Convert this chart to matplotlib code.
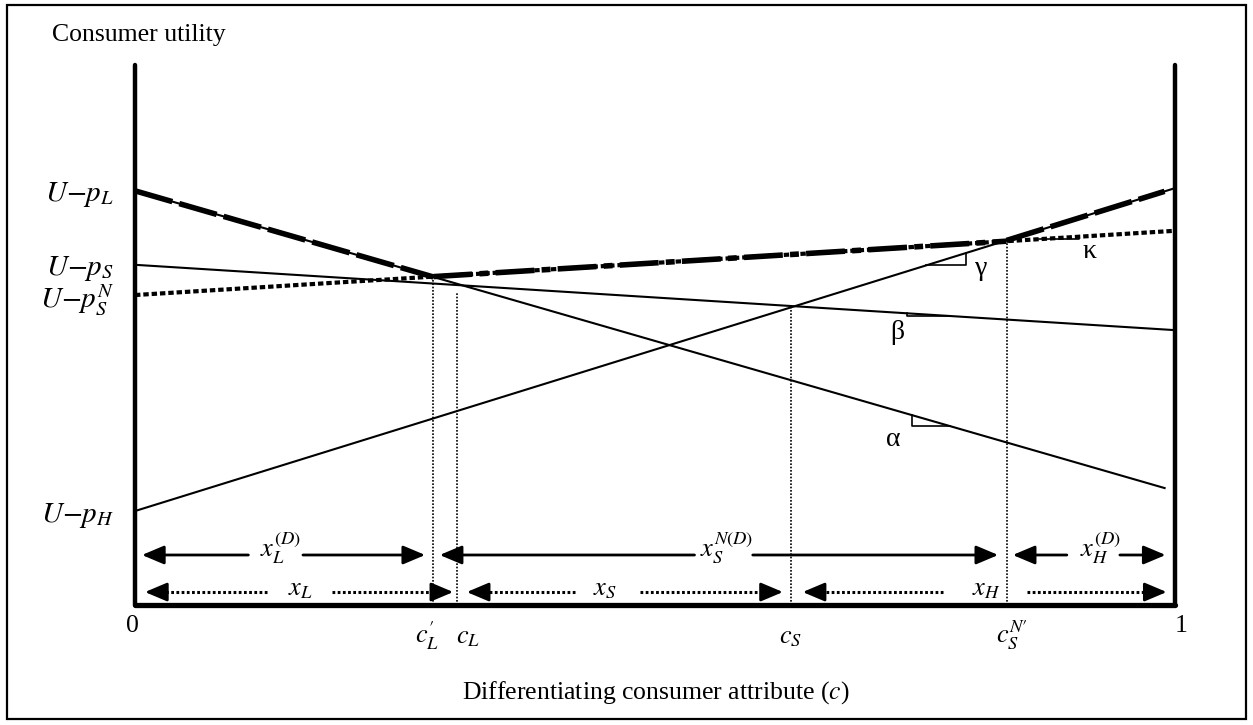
import numpy as np
import matplotlib.pyplot as plt
from matplotlib.patches import Rectangle

plt.rcParams['font.family'] = ['Liberation Serif', 'DejaVu Serif']
plt.rcParams['mathtext.fontset'] = 'stix'

# === DATA (utility at c=0 and c=1 for each price line) ===
line_names = ["L", "S", "H", "SN"]
u_at_0 = [0.767, 0.630, 0.174, 0.574]
u_at_1 = [0.211, 0.509, 0.772, 0.693]
y_labels = [r"$U{-}p_L$", r"$U{-}p_S$", r"$U{-}p_H$", r"$U{-}p_S^N$"]

# thresholds on the attribute axis
c_marks = [0.287, 0.310, 0.631, 0.838]
c_labels = [r"$c_L^{\prime}$", r"$c_L$", r"$c_S$", r"$c_S^{N\prime}$"]

# segment arrows
solid_labels = [r"$x_L^{(D)}$", r"$x_S^{N(D)}$", r"$x_H^{(D)}$"]
dotted_labels = [r"$x_L$", r"$x_S$", r"$x_H$"]

# slope markers
slope_names = ["α", "β", "γ", "κ"]
slope_lines = [0, 1, 2, 3]


def val(i, c):
    return u_at_0[i] + (u_at_1[i] - u_at_0[i]) * c


# === FIGURE ===
fig = plt.figure(figsize=(12.53, 7.25), dpi=100)
ax = fig.add_axes([135 / 1253, 120 / 725, 1040 / 1253, 540 / 725])
ax.set_xlim(0, 1)
ax.set_ylim(0, 1)
ax.spines['top'].set_visible(False)
ax.spines['left'].set_linewidth(3.2)
ax.spines['right'].set_linewidth(3.2)
ax.spines['bottom'].set_linewidth(3.8)
for sp in ax.spines.values():
    sp.set_capstyle('round')
ax.set_xticks([])
ax.set_yticks(u_at_0)
ax.set_yticklabels(y_labels, fontsize=21)
ax.tick_params(axis='y', length=0, pad=15)

# price lines
ax.plot([0, 0.99], [val(0, 0), val(0, 0.99)], color='k', lw=1.5)
ax.plot([0, 1], [val(1, 0), val(1, 1)], color='k', lw=1.5)
ax.plot([0, 1], [val(2, 0), val(2, 1)], color='k', lw=1.5)
ax.plot([0, 1], [val(3, 0), val(3, 1)], color='k', lw=3.0,
        linestyle=(0, (1.3, 0.7)))

# upper envelope
cLp, cL, cS, cSN = c_marks
ax.plot([0, cLp], [val(0, 0), val(0, cLp)], color='k', lw=4,
        linestyle=(0, (7, 1.3)), zorder=5)
ax.plot([cLp, cSN], [val(3, cLp), val(3, cSN)], color='k', lw=4,
        linestyle=(0, (7, 1.3, 1.6, 1.3)), zorder=5)
ax.plot([cSN, 0.99], [val(2, cSN), val(2, 0.99)], color='k', lw=4,
        linestyle=(0, (7, 1.3)), zorder=5)

# vertical dotted drop lines
tops = [val(0, cLp), val(1, cL) - 0.012, val(1, cS), val(3, cSN)]
for c, t in zip(c_marks, tops):
    ax.plot([c, c], [0, t], color='k', lw=1.2, linestyle=(0, (1, 1)))

# threshold labels under the axis
label_x = [0.281, 0.320, 0.630, 0.843]
for x, lab in zip(label_x, c_labels):
    ax.text(x, -0.0704, lab, fontsize=19, ha='center', va='baseline',
            clip_on=False)
ax.text(-0.002, -0.05, "0", fontsize=18.5, ha='center', va='baseline')
ax.text(1.006, -0.05, "1", fontsize=18.5, ha='center', va='baseline')
ax.text(0.501, -0.174, "Differentiating consumer attribute ($c$)",
        fontsize=18.5, ha='center', va='baseline')

# slope triangles
tri_c = [(0.747, 0.784), (0.742, 0.784), (0.761, 0.799), (0.869, 0.908)]
for i, (c1, c2) in zip(slope_lines, tri_c):
    y1, y2 = val(i, c1), val(i, c2)
    if y2 < y1:
        ax.plot([c1, c1, c2], [y1, y2, y2], color='k', lw=1.2)
    else:
        ax.plot([c1, c2, c2], [y1, y1, y2], color='k', lw=1.2)
slope_pos = [(0.729, 0.306), (0.733, 0.504), (0.814, 0.624), (0.918, 0.654)]
for name, (x, y) in zip(slope_names, slope_pos):
    ax.text(x, y, name, fontsize=20, ha='center', va='center')

# === SEGMENT ARROWS ===
head = '-|>,head_length=0.9,head_width=0.38'


def arrow_head(y, start, tip):
    ax.annotate('', xy=(tip, y), xytext=(start, y),
                arrowprops=dict(arrowstyle=head, mutation_scale=15,
                                lw=2.0, color='k', shrinkA=0, shrinkB=0))


def seg_arrow(y, tip_l, gap_l, gap_r, tip_r, dotted):
    for start, tip in [(gap_l, tip_l), (gap_r, tip_r)]:
        if dotted:
            back = 0.012 if tip > start else -0.012
            ax.plot([start, tip - back], [y, y], color='k', lw=2.2,
                    linestyle=(0, (0.9, 0.8)))
            arrow_head(y, tip - back, tip)
        else:
            arrow_head(y, start, tip)


solid_y = 0.0926
solid_spans = [(0.0067, 0.109, 0.1615, 0.279),
               (0.293, 0.538, 0.594, 0.830),
               (0.844, 0.896, 0.947, 0.991)]
solid_lab_x = [0.140, 0.569, 0.928]
for (a, b, c, d), lab, x in zip(solid_spans, solid_labels, solid_lab_x):
    seg_arrow(solid_y, a, b, c, d, False)
    ax.text(x, 0.089, lab, fontsize=19, ha='center', va='baseline')

dot_y = 0.024
dot_spans = [(0.0096, 0.127, 0.189, 0.306),
             (0.319, 0.423, 0.486, 0.623),
             (0.642, 0.777, 0.858, 0.992)]
dot_lab_x = [0.159, 0.452, 0.819]
for (a, b, c, d), lab, x in zip(dot_spans, dotted_labels, dot_lab_x):
    seg_arrow(dot_y, a, b, c, d, True)
    ax.text(x, 0.0185, lab, fontsize=19, ha='center', va='baseline')

# y-axis caption and outer frame
fig.text(52 / 1253, 1 - 41 / 725, "Consumer utility", fontsize=18.5,
         ha='left', va='baseline')
fig.add_artist(Rectangle((7 / 1253, 1 - 719 / 725), 1239 / 1253, 714 / 725,
                         transform=fig.transFigure, fill=False, lw=1.6,
                         ec='k'))

fig.savefig('out.png', dpi=100)
